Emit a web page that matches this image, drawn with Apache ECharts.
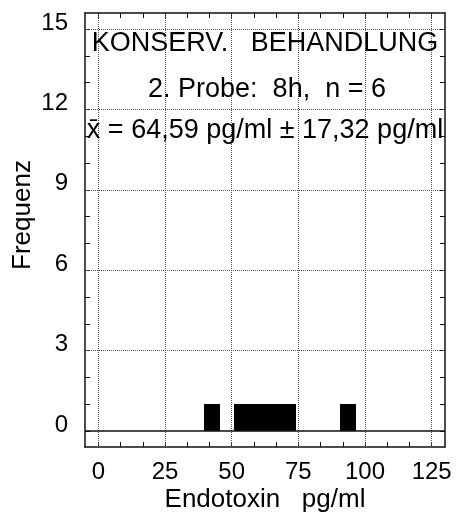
<!DOCTYPE html>
<head>
    <meta charset="utf-8">
    <title>Endotoxin Histogramm</title>
    <style>
        html, body {
            width: 100%;
            height: 100%;
            margin: 0;
            background: #fff;
        }
        #main {
            width: 456px;
            height: 515px;
        }
    </style>
</head>
<body>
<div id="main"></div>
<script src="https://cdn.jsdelivr.net/npm/echarts@6.0.0/dist/echarts.min.js"></script>
<script type="text/javascript">
  // histogram bins (pg/ml), one sample each
  var binLo = [39.6, 50.9, 56.7, 62.5, 68.3, 90.6];
  var binHi = [45.6, 56.7, 62.5, 68.3, 74.1, 96.6];
  var freq  = [1, 1, 1, 1, 1, 1];

  var xLabels = [0, 25, 50, 75, 100, 125];
  var yLabels = [0, 3, 6, 9, 12, 15];
  var yTicks  = [0, 1, 2, 3, 4, 5, 6, 7, 8, 9, 10, 11, 12, 13, 14, 15];
  var xSub = 3; // minor ticks per 25 pg/ml

  var textLines = [
    'KONSERV.   BEHANDLUNG',
    '2. Probe:  8h,  n = 6',
    'x\u0304 = 64,59 pg/ml \u00b1 17,32 pg/ml'
  ];

  var font = "'Liberation Sans', Arial, sans-serif";

  var xTicks = [];
  for (var i = 0; i < xLabels.length - 1; i++) {
    for (var k = 0; k < xSub; k++) {
      xTicks.push(xLabels[i] + (xLabels[i + 1] - xLabels[i]) * k / xSub);
    }
  }
  xTicks.push(xLabels[xLabels.length - 1]);

  var bins = [];
  for (var j = 0; j < freq.length; j++) {
    bins.push([binLo[j], binHi[j], freq[j]]);
  }

  var gridLines = [];
  xLabels.forEach(function (v) { gridLines.push({xAxis: v}); });
  yLabels.forEach(function (v) {
    if (v === 0) {
      gridLines.push({yAxis: v, lineStyle: {type: 'solid', color: '#111', width: 1.5}});
    } else {
      gridLines.push({yAxis: v});
    }
  });

  var frameLine = {show: true, onZero: false, lineStyle: {color: '#111', width: 1.5}};
  var tickIn = function (vals) {
    return {show: true, inside: true, length: 5, customValues: vals, lineStyle: {color: '#111', width: 1}};
  };

  var myChart = echarts.init(document.getElementById('main'));

  var option = {
    backgroundColor: '#fff',
    animation: false,
    grid: {left: 85, right: 11, top: 13, bottom: 68, outerBoundsMode: 'none'},
    graphic: [
      {type: 'text', x: 265, y: 57, silent: true, z: 50,
       style: {text: textLines[0], font: '27px ' + font, fill: '#000', textAlign: 'center', textVerticalAlign: 'bottom'}},
      {type: 'text', x: 267, y: 103, silent: true, z: 50,
       style: {text: textLines[1], font: '27px ' + font, fill: '#000', textAlign: 'center', textVerticalAlign: 'bottom'}},
      {type: 'text', x: 265, y: 144, silent: true, z: 50,
       style: {text: textLines[2], font: '27px ' + font, fill: '#000', textAlign: 'center', textVerticalAlign: 'bottom'}}
    ],
    xAxis: [
      {
        type: 'value',
        position: 'bottom',
        min: -5,
        max: 130,
        axisLine: frameLine,
        axisTick: tickIn(xTicks),
        axisLabel: {
          customValues: xLabels,
          fontSize: 24,
          fontFamily: font,
          color: '#000',
          margin: 13
        },
        splitLine: {show: false},
        name: 'Endotoxin   pg/ml',
        nameLocation: 'middle',
        nameGap: 40,
        nameMoveOverlap: false,
        nameTextStyle: {fontSize: 26, fontFamily: font, color: '#000'}
      },
      {
        type: 'value',
        position: 'top',
        min: -5,
        max: 130,
        axisLine: frameLine,
        axisTick: tickIn(xTicks),
        axisLabel: {show: false},
        splitLine: {show: false}
      }
    ],
    yAxis: [
      {
        type: 'value',
        position: 'left',
        min: -0.6,
        max: 15.6,
        axisLine: frameLine,
        axisTick: tickIn(yTicks),
        axisLabel: {
          customValues: yLabels,
          fontSize: 24,
          fontFamily: font,
          color: '#000',
          margin: 17,
          verticalAlign: 'bottom',
          lineHeight: 12
        },
        splitLine: {show: false},
        name: 'Frequenz',
        nameLocation: 'middle',
        nameRotate: 90,
        nameGap: 49,
        nameMoveOverlap: false,
        nameTextStyle: {fontSize: 26, fontFamily: font, color: '#000', padding: [0, 0, 0, 30]}
      },
      {
        type: 'value',
        position: 'right',
        min: -0.6,
        max: 15.6,
        axisLine: frameLine,
        axisTick: tickIn(yTicks),
        axisLabel: {show: false},
        splitLine: {show: false}
      }
    ],
    series: [
      {
        // dotted grid and solid zero line, below the bars
        type: 'custom',
        xAxisIndex: 0,
        yAxisIndex: 0,
        data: [],
        renderItem: function () { return null; },
        markLine: {
          silent: true,
          symbol: 'none',
          label: {show: false},
          lineStyle: {type: 'dotted', color: '#555', width: 1},
          data: gridLines
        },
        z: 1
      },
      {
        type: 'custom',
        xAxisIndex: 0,
        yAxisIndex: 0,
        data: bins,
        renderItem: function (params, api) {
          var p0 = api.coord([api.value(0), api.value(2)]);
          var p1 = api.coord([api.value(1), 0]);
          var x0 = Math.round(p0[0]), x1 = Math.round(p1[0]);
          var y0 = Math.round(p0[1]), y1 = Math.round(p1[1]);
          return {
            type: 'rect',
            shape: {x: x0, y: y0, width: x1 - x0, height: y1 - y0},
            style: {fill: '#000'}
          };
        },
        z: 3
      }
    ]
  };

  myChart.setOption(option);
</script>
</body>
